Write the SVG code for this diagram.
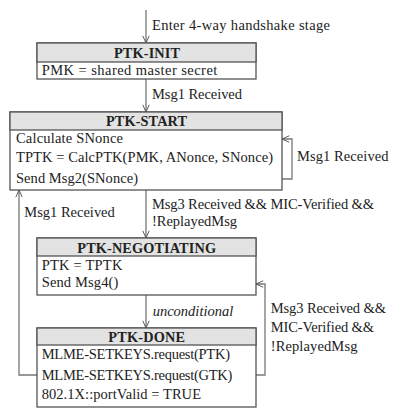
<svg xmlns="http://www.w3.org/2000/svg" width="401" height="419" viewBox="0 0 401 419">
<defs>
<style>
.box{fill:#fff;stroke:#555;stroke-width:1.3}
.hdr{fill:#e3e3e3;stroke:#555;stroke-width:1.3}
.t{font-family:"Liberation Serif",serif;font-size:14.5px;fill:#222}
.title{font-family:"Liberation Serif",serif;font-size:14.3px;font-weight:bold;fill:#222}
.lbl{font-family:"Liberation Serif",serif;font-size:14.5px;fill:#222}
.conn{fill:none;stroke:#777;stroke-width:1.3}
</style>
<marker id="arr" viewBox="0 0 10 10" refX="10" refY="5" markerWidth="8" markerHeight="8" orient="auto" markerUnits="userSpaceOnUse">
<path d="M1,1 L10,5 L1,9" fill="none" stroke="#555" stroke-width="1.2"/>
</marker>
</defs>
<rect width="401" height="419" fill="#fff"/>
<g id="connectors">
<line class="conn" x1="146" y1="10" x2="146" y2="43" marker-end="url(#arr)"/>
<text class="lbl" x="152" y="30" textLength="178" lengthAdjust="spacing">Enter 4-way handshake stage</text>
<line class="conn" x1="146" y1="79" x2="146" y2="112" marker-end="url(#arr)"/>
<text class="lbl" x="152" y="99" textLength="90" lengthAdjust="spacing">Msg1 Received</text>
<polyline class="conn" points="282,179 292,179 292,139 282,139" marker-end="url(#arr)"/>
<text class="lbl" x="297" y="161" textLength="91.5" lengthAdjust="spacing">Msg1 Received</text>
<line class="conn" x1="146" y1="190" x2="146" y2="238" marker-end="url(#arr)"/>
<text class="lbl" x="152" y="209" textLength="222" lengthAdjust="spacing">Msg3 Received &amp;&amp; MIC-Verified &amp;&amp;</text>
<text class="lbl" x="152" y="226" textLength="85" lengthAdjust="spacing">!ReplayedMsg</text>
<polyline class="conn" points="37,375 19,375 19,190" marker-end="url(#arr)"/>
<text class="lbl" x="24.3" y="217" textLength="90.5" lengthAdjust="spacing">Msg1 Received</text>
<line class="conn" x1="146" y1="295" x2="146" y2="328" marker-end="url(#arr)"/>
<text class="lbl" x="152.7" y="316" font-style="italic" textLength="80.5" lengthAdjust="spacing">unconditional</text>
<polyline class="conn" points="256,375 265,375 265,284 256,284" marker-end="url(#arr)"/>
<text class="lbl" x="270.7" y="313" textLength="115.3" lengthAdjust="spacing">Msg3 Received &amp;&amp;</text>
<text class="lbl" x="270.7" y="332" textLength="103.3" lengthAdjust="spacing">MIC-Verified &amp;&amp;</text>
<text class="lbl" x="270.7" y="351" textLength="86.7" lengthAdjust="spacing">!ReplayedMsg</text>
</g>
<g id="ptk-init">
<rect class="box" x="37" y="43" width="219" height="36"/>
<rect class="hdr" x="37" y="43" width="219" height="19"/>
<text class="title" x="114" y="57.5" textLength="66" lengthAdjust="spacing">PTK-INIT</text>
<text class="t" x="41.7" y="75" textLength="175.6" lengthAdjust="spacing">PMK = shared master secret</text>
</g>
<g id="ptk-start">
<rect class="box" x="10" y="112" width="272" height="78"/>
<rect class="hdr" x="10" y="112" width="272" height="18"/>
<text class="title" x="106" y="126" textLength="81" lengthAdjust="spacing">PTK-START</text>
<text class="t" x="16" y="143" textLength="107" lengthAdjust="spacing">Calculate SNonce</text>
<text class="t" x="16" y="162" textLength="257" lengthAdjust="spacing">TPTK = CalcPTK(PMK, ANonce, SNonce)</text>
<text class="t" x="16" y="183" textLength="122" lengthAdjust="spacing">Send Msg2(SNonce)</text>
</g>
<g id="ptk-negotiating">
<rect class="box" x="37" y="238" width="219" height="57"/>
<rect class="hdr" x="37" y="238" width="219" height="18"/>
<text class="title" x="77.3" y="252.5" textLength="138.7" lengthAdjust="spacing">PTK-NEGOTIATING</text>
<text class="t" x="41.7" y="270" textLength="80.7" lengthAdjust="spacing">PTK = TPTK</text>
<text class="t" x="41.7" y="287" textLength="76.7" lengthAdjust="spacing">Send Msg4()</text>
</g>
<g id="ptk-done">
<rect class="box" x="37" y="328" width="219" height="79"/>
<rect class="hdr" x="37" y="328" width="219" height="17"/>
<text class="title" x="108.3" y="341.5" textLength="76.7" lengthAdjust="spacing">PTK-DONE</text>
<text class="t" x="41.7" y="359" textLength="188.3" lengthAdjust="spacing">MLME-SETKEYS.request(PTK)</text>
<text class="t" x="41.7" y="380" textLength="190.7" lengthAdjust="spacing">MLME-SETKEYS.request(GTK)</text>
<text class="t" x="41.7" y="399" textLength="159.3" lengthAdjust="spacing">802.1X::portValid = TRUE</text>
</g>
</svg>
